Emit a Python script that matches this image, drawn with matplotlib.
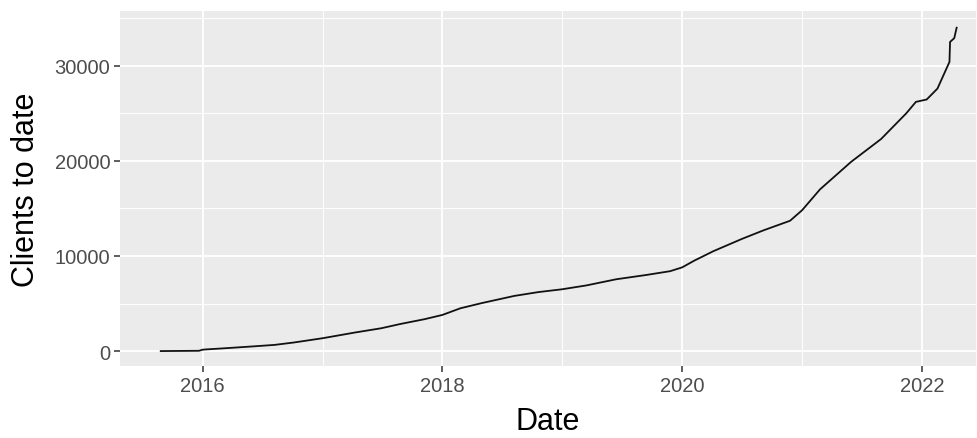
import matplotlib.pyplot as plt
import numpy as np

# cumulative clients (decimal years)
years = [2015.65, 2015.97, 2016.0, 2016.19, 2016.43, 2016.6, 2016.76, 2017.0,
         2017.27, 2017.49, 2017.65, 2017.85, 2018.0, 2018.15, 2018.33, 2018.6,
         2018.8, 2019.0, 2019.2, 2019.45, 2019.7, 2019.9, 2020.0, 2020.1,
         2020.26, 2020.5, 2020.68, 2020.9, 2021.0, 2021.15, 2021.41, 2021.66,
         2021.87, 2021.95, 2022.04, 2022.13, 2022.23, 2022.235, 2022.27, 2022.29]
clients = [0, 30, 150, 300, 500, 650, 900, 1350,
           1950, 2400, 2850, 3350, 3800, 4500, 5050, 5800,
           6200, 6500, 6900, 7550, 8000, 8400, 8800, 9500,
           10500, 11800, 12700, 13700, 14800, 17000, 19900, 22300,
           25000, 26200, 26450, 27600, 30400, 32500, 32900, 34000]

x_ticks = [2016, 2018, 2020, 2022]
x_minor = [2017, 2019, 2021]
y_ticks = [0, 10000, 20000, 30000]
y_minor = [5000, 15000, 25000, 35000]

plt.rcParams['font.family'] = ['Liberation Sans', 'DejaVu Sans']

fig = plt.figure(figsize=(9.77, 4.39), dpi=100)
ax = fig.add_axes([0.1228, 0.164, 0.876, 0.809])
ax.set_facecolor('#EBEBEB')

ax.plot(years, clients, color='#111111', lw=1.3, zorder=3)

ax.set_xticks(x_ticks)
ax.set_xticklabels([str(t) for t in x_ticks])
ax.set_yticks(y_ticks)
ax.set_yticklabels([str(t) for t in y_ticks])
ax.set_xticks(x_minor, minor=True)
ax.set_yticks(y_minor, minor=True)
ax.set_xlim(2015.31, 2022.45)
ax.set_ylim(-1570, 35770)

ax.grid(which='major', color='white', lw=1.3)
ax.grid(which='minor', color='white', lw=0.7)
ax.set_axisbelow(True)
for s in ax.spines.values():
    s.set_visible(False)

ax.tick_params(which='major', length=4, width=1.1, color='#333333',
               labelcolor='#4D4D4D', labelsize=14.5, pad=3)
ax.tick_params(which='minor', length=0)

ax.set_xlabel('Date', fontsize=22, labelpad=8)
ax.set_ylabel('Clients to date', fontsize=22, labelpad=10)

plt.savefig('out.png', dpi=100)
